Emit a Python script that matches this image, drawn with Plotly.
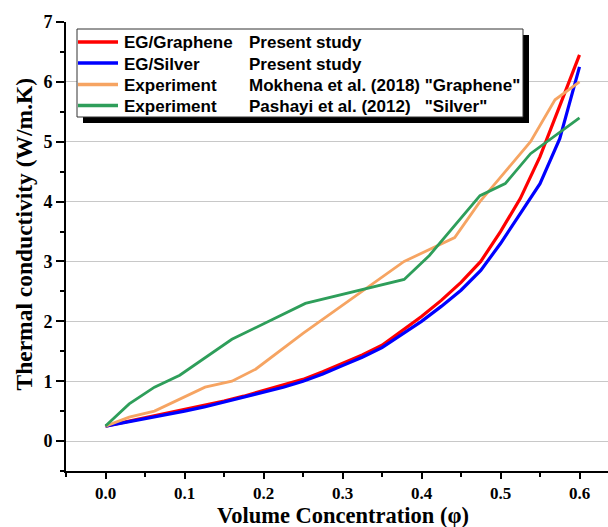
import plotly.graph_objects as go

# ---- data ----
x_model = [0, 0.025, 0.05, 0.075, 0.1, 0.125, 0.15, 0.175, 0.2, 0.225, 0.25, 0.275,
           0.3, 0.325, 0.35, 0.375, 0.4, 0.425, 0.45, 0.475, 0.5, 0.525, 0.55, 0.575, 0.6]
eg_graphene = [0.25, 0.32, 0.39, 0.46, 0.52, 0.59, 0.67, 0.75, 0.84, 0.93, 1.03, 1.16,
               1.30, 1.44, 1.60, 1.84, 2.08, 2.35, 2.65, 3.00, 3.50, 4.05, 4.75, 5.60, 6.45]
eg_silver = [0.25, 0.31, 0.38, 0.44, 0.50, 0.57, 0.65, 0.73, 0.81, 0.90, 1.00, 1.12,
             1.26, 1.40, 1.56, 1.78, 2.00, 2.25, 2.52, 2.85, 3.30, 3.80, 4.30, 5.05, 6.25]

x_mokhena = [0, 0.03, 0.062, 0.094, 0.126, 0.16, 0.19, 0.25, 0.378, 0.442, 0.474, 0.506, 0.538, 0.569, 0.6]
mokhena = [0.25, 0.40, 0.50, 0.70, 0.90, 1.00, 1.20, 1.80, 3.00, 3.40, 4.00, 4.50, 5.00, 5.70, 6.00]

x_pashayi = [0, 0.03, 0.062, 0.094, 0.16, 0.253, 0.378, 0.41, 0.474, 0.506, 0.538, 0.569, 0.6]
pashayi = [0.25, 0.62, 0.90, 1.10, 1.70, 2.30, 2.70, 3.10, 4.10, 4.30, 4.80, 5.10, 5.40]

names_col1 = ["EG/Graphene", "EG/Silver", "Experiment", "Experiment"]
names_col2 = ["Present study", "Present study", 'Mokhena et al. (2018) "Graphene"',
              'Pashayi et al. (2012)   "Silver"']
colors = ["#FF0000", "#0000FF", "#F6A462", "#2E9E5A"]
widths = [3.2, 3.2, 2.8, 2.8]

series = [(x_model, eg_graphene), (x_model, eg_silver), (x_mokhena, mokhena), (x_pashayi, pashayi)]

fig = go.Figure()
for (xs, ys), n, c, w in zip(series, names_col1, colors, widths):
    fig.add_trace(go.Scatter(x=xs, y=ys, mode="lines", name=n,
                             line=dict(color=c, width=w)))

W, H = 608, 527
L, R, T, B = 66, 0, 22, 56
pw, ph = W - L - R, H - T - B
X_PER_UNIT = 790.0  # pixels per unit of volume concentration


def px_x(p):
    return (p - L) / pw


def px_y(p):
    return (H - B - p) / ph


serif = "Liberation Serif"
sans = "Liberation Sans"

shapes = [
    # legend shadow
    dict(type="rect", xref="paper", yref="paper", x0=px_x(83), x1=px_x(529), y0=px_y(123), y1=px_y(35),
         fillcolor="black", line=dict(width=0), layer="above"),
    # legend box
    dict(type="rect", xref="paper", yref="paper", x0=px_x(77), x1=px_x(523), y0=px_y(117), y1=px_y(29),
         fillcolor="white", line=dict(color="#333333", width=1), layer="above"),
]

row_y = [42, 63, 84.5, 105.5]
annotations = []
for c, w, t1, t2, yy in zip(colors, widths, names_col1, names_col2, row_y):
    shapes.append(dict(type="line", xref="paper", yref="paper", x0=px_x(78), x1=px_x(118),
                       y0=px_y(yy), y1=px_y(yy), line=dict(color=c, width=3.5), layer="above"))
    annotations.append(dict(text=t1, x=px_x(122), y=px_y(yy + 1), xref="paper", yref="paper",
                            xanchor="left", yanchor="middle", showarrow=False,
                            font=dict(family=sans, size=17, color="black", weight="bold")))
    annotations.append(dict(text=t2, x=px_x(247), y=px_y(yy + 1), xref="paper", yref="paper",
                            xanchor="left", yanchor="middle", showarrow=False,
                            font=dict(family=sans, size=17, color="black", weight="bold")))

annotations.append(dict(text="Volume Concentration (φ)", x=0.3, y=px_y(528.5), xref="x", yref="paper",
                        xanchor="center", yanchor="bottom", showarrow=False, borderpad=0,
                        font=dict(family=serif, size=22.5, color="black", weight="bold")))
annotations.append(dict(text="Thermal conductivity (W/m.K)", x=px_x(24), y=3.45, xref="paper", yref="y",
                        xanchor="center", yanchor="middle", textangle=-90, showarrow=False,
                        font=dict(family=serif, size=23.5, color="black", weight="bold")))

fig.update_layout(
    width=W, height=H,
    margin=dict(l=L, r=R, t=T, b=B),
    paper_bgcolor="white", plot_bgcolor="white",
    showlegend=False,
    shapes=shapes,
    annotations=annotations,
    xaxis=dict(range=[-0.05, -0.05 + pw / X_PER_UNIT], dtick=0.1, tick0=0, tickformat=".1f",
               showgrid=False, zeroline=False, showline=True, linecolor="black", linewidth=2,
               ticks="outside", ticklen=6, tickwidth=2, tickcolor="black",
               minor=dict(dtick=0.05, tick0=0, ticks="outside", ticklen=4, tickwidth=2, tickcolor="black"),
               tickfont=dict(family=serif, size=17, color="black", weight="bold")),
    yaxis=dict(range=[-0.5, 7], dtick=1, tick0=0,
               showgrid=True, gridcolor="#C8C8C8", gridwidth=1.2, zeroline=False,
               showline=True, linecolor="black", linewidth=2,
               ticks="outside", ticklen=8, tickwidth=2, tickcolor="black",
               minor=dict(dtick=0.5, tick0=0, ticks="outside", ticklen=4, tickwidth=2, tickcolor="black"),
               tickfont=dict(family=serif, size=18, color="black", weight="bold")),
)

fig.write_html("out.html")
